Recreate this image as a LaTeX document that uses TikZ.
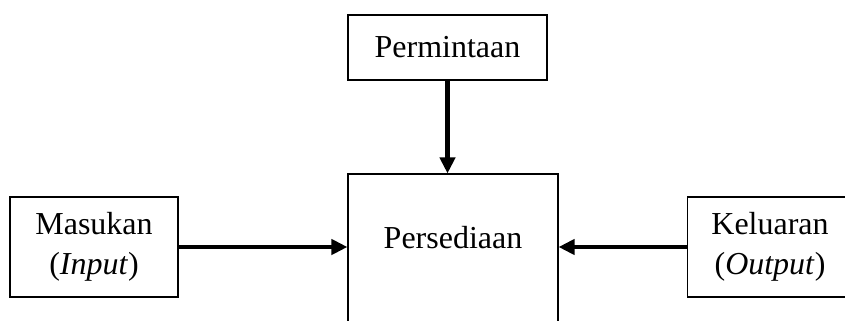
\documentclass[tikz,border=0pt]{standalone}
\usepackage{fontspec}
\setmainfont{Liberation Serif}
\usetikzlibrary{arrows.meta}

\begin{document}
\begin{tikzpicture}[
    kotak/.style={draw,line width=0.6pt,align=center,inner sep=0pt},
    panah/.style={line width=2.3pt,-{Triangle[length=3.2mm,width=3mm]}},
    font=\fontsize{18.2}{22.5}\selectfont
  ]
\useasboundingbox (0,0) rectangle (16.9,6.4);

\node[kotak,minimum width=3.98cm,minimum height=1.3cm] (perm) at (8.95,5.45) {Permintaan};
\node[kotak,minimum width=4.2cm,minimum height=3.6cm] (pers) at (9.06,1.12) {};
\node[] (perstext) at (9.06,1.64) {Persediaan};

\node[kotak,minimum width=3.36cm,minimum height=2cm] (mas) at (1.88,1.46) {Masukan\\(\textit{Input})};
\node[kotak,minimum width=3.3cm,minimum height=2cm] (kel) at (15.4,1.46) {Keluaran\\(\textit{Output})};

%arrows into persediaan
\draw[panah] (perm.south) -- (perm.south |- pers.north);
\draw[panah] (mas.east) -- (mas.east -| pers.west);
\draw[panah] (kel.west) -- (kel.west -| pers.east);
\end{tikzpicture}
\end{document}
